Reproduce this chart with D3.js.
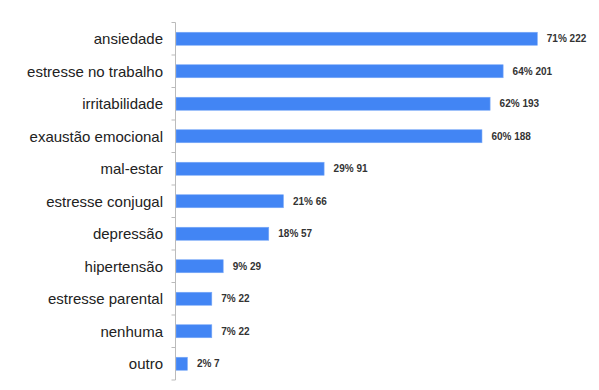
<!DOCTYPE html>
<html>
<head>
<meta charset="utf-8">
<script src="https://cdn.jsdelivr.net/npm/d3@7"></script>
<style>
  body { margin: 0; background: #fff; }
  svg { display: block; font-family: "Liberation Sans", Arial, sans-serif; }
</style>
</head>
<body>
<div id="chart"></div>
<script>
const categories = ["ansiedade", "estresse no trabalho", "irritabilidade", "exaustão emocional",
  "mal-estar", "estresse conjugal", "depressão", "hipertensão", "estresse parental", "nenhuma", "outro"];
const counts = [222, 201, 193, 188, 91, 66, 57, 29, 22, 22, 7];
const percents = [71, 64, 62, 60, 29, 21, 18, 9, 7, 7, 2];

const W = 599, H = 390;
const margin = { top: 22.5, right: 62, bottom: 10, left: 175.5 };

const data = categories.map((c, i) => ({ cat: c, n: counts[i], pct: percents[i] }));

const svg = d3.select("#chart").append("svg")
  .attr("width", W)
  .attr("height", H);

const y = d3.scaleBand()
  .domain(categories)
  .range([margin.top, 380])
  .paddingInner(0.6)
  .paddingOuter(0.3);

const x = d3.scaleLinear()
  .domain([0, 222])
  .range([margin.left + 0.5, 537.3]);

// bars
svg.append("g")
  .selectAll("rect")
  .data(data)
  .join("rect")
  .attr("x", x(0))
  .attr("y", d => y(d.cat))
  .attr("width", d => x(d.n) - x(0))
  .attr("height", y.bandwidth())
  .attr("fill", "#4285f4")
  .attr("stroke", "#7aa9f7")
  .attr("stroke-width", 0.6);

// value labels
svg.append("g")
  .selectAll("text")
  .data(data)
  .join("text")
  .attr("x", d => x(d.n) + 9.5)
  .attr("y", d => y(d.cat) + y.bandwidth() / 2)
  .attr("dy", "0.35em")
  .attr("font-size", 10)
  .attr("font-weight", "bold")
  .attr("fill", "#333")
  .text(d => `${d.pct}% ${d.n}`);

// left axis with ticks on band boundaries
const step = y.step();
const bounds = d3.range(categories.length + 1).map(i => margin.top + i * step);

const axis = svg.append("g");
axis.append("line")
  .attr("x1", margin.left).attr("x2", margin.left)
  .attr("y1", margin.top).attr("y2", 380)
  .attr("stroke", "#bbb");
axis.selectAll("line.tick")
  .data(bounds)
  .join("line")
  .attr("class", "tick")
  .attr("x1", margin.left - 4).attr("x2", margin.left)
  .attr("y1", d => d).attr("y2", d => d)
  .attr("stroke", "#bbb");

axis.selectAll("text")
  .data(categories)
  .join("text")
  .attr("x", 163)
  .attr("y", d => y(d) + y.bandwidth() / 2)
  .attr("dy", "0.35em")
  .attr("text-anchor", "end")
  .attr("font-size", 15)
  .attr("fill", "#222")
  .text(d => d);
</script>
</body>
</html>
